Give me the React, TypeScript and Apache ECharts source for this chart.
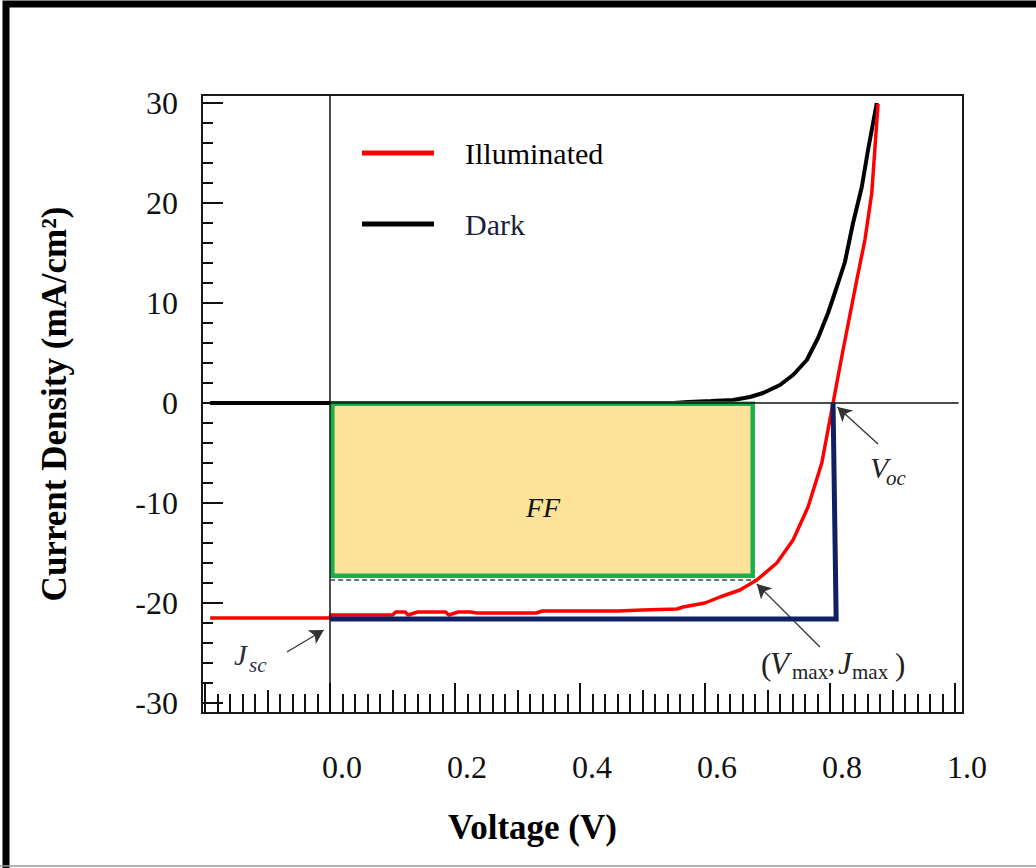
import React, { useEffect, useRef } from 'react';
import * as echarts from 'echarts';

const SERIF = "'Liberation Serif', 'Times New Roman', serif";

// Dark J-V curve (V, mA/cm2)
const darkV = [-0.192, 0, 0.3, 0.55, 0.573, 0.61, 0.645, 0.672, 0.693, 0.72, 0.741, 0.763, 0.781, 0.797, 0.811, 0.824, 0.837, 0.851, 0.861, 0.875];
const darkJ = [0, 0, 0, 0, 0.1, 0.2, 0.3, 0.6, 1.0, 1.8, 2.8, 4.3, 6.5, 9.0, 11.6, 14.1, 18.0, 21.6, 25.3, 30.0];

// Illuminated J-V curve
const illumV = [-0.192, 0, 0.001, 0.1, 0.105, 0.12, 0.125, 0.14, 0.185, 0.19, 0.205, 0.225, 0.235, 0.33, 0.34, 0.46, 0.5, 0.555, 0.565, 0.6, 0.624, 0.656, 0.683, 0.715, 0.741, 0.765, 0.787, 0.805, 0.821, 0.843, 0.856, 0.867, 0.877];
const illumJ = [-21.5, -21.5, -21.2, -21.2, -20.9, -20.9, -21.2, -20.9, -20.9, -21.2, -20.9, -20.9, -21.0, -21.0, -20.8, -20.8, -20.7, -20.6, -20.4, -20.0, -19.4, -18.7, -17.7, -16.0, -13.7, -10.4, -6.0, 0, 5.3, 12.3, 16.3, 21.0, 29.9];

// Ideal rectangle (Jsc x Voc)
const idealV = [0, 0.81, 0.805];
const idealJ = [-21.6, -21.6, 0];

// Fill-factor box: [V0, J0, V1, J1]
const ffBox = [0, 0.15, 0.68, -17.5];
const jmaxLine = -17.65;
const vmaxLine = 0.68;

// Axis ticks / labels
const xLabelValues = [0, 0.2, 0.4, 0.6, 0.8, 1.0];
const xMajorTicks = [-0.2, 0, 0.2, 0.4, 0.6, 0.8, 1.0];
const xMidTicks = [-0.1, 0.1, 0.3, 0.5, 0.7, 0.9];
const yLabelValues = [-30, -20, -10, 0, 10, 20, 30];

const xMinorTicks: number[] = [];
for (let i = 0; i <= 60; i++) xMinorTicks.push((i * 2 - 20) / 100);
const yMinorTicks: number[] = [];
for (let i = -15; i <= 15; i++) yMinorTicks.push(i * 2);

const X_MIN = -0.205, X_MAX = 1.013, Y_MIN = -31, Y_MAX = 30.8;

const pairs = (xs: number[], ys: number[]) => xs.map((x, i) => [x, ys[i]]);

const gridBox = { left: 202, top: 95, width: 761, height: 618 };

function txt(text: string, x: number, y: number, size: number, opts: any = {}) {
  return {
    type: 'text',
    x,
    y,
    z: 100,
    style: {
      text,
      fontFamily: SERIF,
      fontSize: size,
      fontStyle: opts.italic ? 'italic' : 'normal',
      fill: opts.color || '#111',
      align: opts.align || 'left',
      verticalAlign: 'middle',
    },
  };
}

export default function App() {
  const ref = useRef<HTMLDivElement>(null);
  useEffect(() => {
    if (!ref.current) return;
    const chart = echarts.init(ref.current, null, { renderer: 'svg' });
    const tickLine = { color: '#111', width: 2 };
    const noLine = { show: false, onZero: false };
    const hiddenAxisBase = {
      type: 'value',
      min: X_MIN,
      max: X_MAX,
      axisLine: noLine,
      axisLabel: { show: false },
      splitLine: { show: false },
    };
    const option: any = {
      animation: false,
      backgroundColor: '#fff',
      grid: [
        { ...gridBox, show: true, borderColor: '#1a1a1a', borderWidth: 2, backgroundColor: 'transparent', outerBoundsMode: 'none' },
        { ...gridBox, show: false, outerBoundsMode: 'none' },
        { ...gridBox, show: false, outerBoundsMode: 'none' },
      ],
      legend: {
        orient: 'vertical',
        left: 357,
        top: 133,
        itemWidth: 72,
        itemHeight: 5,
        itemGap: 41,
        icon: 'rect',
        selectedMode: false,
        textStyle: { fontFamily: SERIF, fontSize: 30, color: '#000', padding: [0, 0, 0, 26] },
        data: [
          { name: 'Illuminated', textStyle: { color: '#000' } },
          { name: 'Dark', textStyle: { color: '#1c1f3a' } },
        ],
      },
      xAxis: [
        {
          type: 'value',
          gridIndex: 0,
          min: X_MIN,
          max: X_MAX,
          name: 'Voltage (V)',
          nameLocation: 'middle',
          nameGap: 97,
          nameTextStyle: { fontFamily: SERIF, fontWeight: 'bold', fontSize: 35, color: '#000', padding: [0, 100, 0, 0] },
          axisLine: noLine,
          axisTick: { show: true, inside: true, length: 30, lineStyle: tickLine, customValues: xMajorTicks },
          axisLabel: {
            show: true,
            customValues: xLabelValues,
            formatter: (v: number) => v.toFixed(1),
            fontFamily: SERIF,
            fontSize: 32,
            color: '#111',
            margin: 38,
            padding: [0, 0, 0, 24],
          },
          splitLine: { show: false },
        },
        {
          ...hiddenAxisBase,
          gridIndex: 1,
          axisTick: { show: true, inside: true, length: 23, lineStyle: tickLine, customValues: xMidTicks },
        },
        {
          ...hiddenAxisBase,
          gridIndex: 2,
          axisTick: { show: true, inside: true, length: 19, lineStyle: tickLine, customValues: xMinorTicks },
        },
      ],
      yAxis: [
        {
          type: 'value',
          gridIndex: 0,
          min: Y_MIN,
          max: Y_MAX,
          name: 'Current Density (mA/cm²)',
          nameLocation: 'middle',
          nameGap: 130,
          nameTextStyle: { fontFamily: SERIF, fontWeight: 'bold', fontSize: 35, color: '#000' },
          axisLine: noLine,
          axisTick: { show: true, inside: true, length: 21, lineStyle: tickLine, customValues: yLabelValues },
          axisLabel: {
            show: true,
            customValues: yLabelValues,
            fontFamily: SERIF,
            fontSize: 32,
            color: '#111',
            margin: 24,
            padding: [14, 0, 0, 0],
          },
          splitLine: { show: false },
        },
        {
          type: 'value',
          gridIndex: 1,
          min: Y_MIN,
          max: Y_MAX,
          axisLine: noLine,
          axisLabel: { show: false },
          splitLine: { show: false },
          axisTick: { show: true, inside: true, length: 11, lineStyle: tickLine, customValues: yMinorTicks },
        },
        { type: 'value', gridIndex: 2, min: Y_MIN, max: Y_MAX, show: false, axisLine: noLine },
      ],
      series: [
        {
          name: 'Dark',
          type: 'line',
          xAxisIndex: 0,
          yAxisIndex: 0,
          data: pairs(darkV, darkJ),
          showSymbol: false,
          symbol: 'none',
          color: '#000',
          lineStyle: { color: '#000', width: 4 },
          z: 2,
        },
        {
          name: 'FF',
          type: 'custom',
          xAxisIndex: 0,
          yAxisIndex: 0,
          z: 3,
          encode: { x: [0, 2], y: [1, 3] },
          data: [ffBox],
          renderItem: (params: any, api: any) => {
            const p0 = api.coord([api.value(0), api.value(1)]);
            const p1 = api.coord([api.value(2), api.value(3)]);
            const w = 4.5;
            return {
              type: 'rect',
              shape: { x: p0[0] + w / 2, y: p0[1] + w / 2, width: p1[0] - p0[0] - w, height: p1[1] - p0[1] - w },
              style: { fill: '#fde39a', stroke: '#1aaf4b', lineWidth: w },
            };
          },
        },
        {
          name: 'Illuminated',
          type: 'line',
          xAxisIndex: 0,
          yAxisIndex: 0,
          data: pairs(illumV, illumJ),
          showSymbol: false,
          symbol: 'none',
          color: '#ff0000',
          lineStyle: { color: '#ff0000', width: 3.5 },
          z: 4,
        },
        {
          name: 'Ideal',
          type: 'line',
          xAxisIndex: 0,
          yAxisIndex: 0,
          data: pairs(idealV, idealJ),
          showSymbol: false,
          symbol: 'none',
          color: '#0f2163',
          lineStyle: { color: '#0f2163', width: 5, join: 'miter' },
          z: 5,
        },
        {
          name: 'Guides',
          type: 'line',
          xAxisIndex: 0,
          yAxisIndex: 0,
          data: [],
          z: 1,
          markLine: {
            silent: true,
            symbol: ['none', 'none'],
            label: { show: false },
            data: [
              { xAxis: 0, lineStyle: { color: '#111', width: 1.5, type: 'solid' } },
              [
                { coord: [0, 0], lineStyle: { color: '#111', width: 1.5, type: 'solid' } },
                { coord: [1.006, 0] },
              ],
              [
                { coord: [0, jmaxLine], lineStyle: { color: '#444', width: 1.5, type: [5, 3] } },
                { coord: [vmaxLine, jmaxLine] },
              ],
            ],
          },
        },
        {
          name: 'Arrows',
          type: 'line',
          xAxisIndex: 0,
          yAxisIndex: 0,
          data: [],
          z: 6,
          markLine: {
            silent: true,
            symbol: ['none', 'arrow'],
            symbolSize: [12, 14],
            label: { show: false },
            lineStyle: { color: '#333', width: 1.3, type: 'solid' },
            data: [
              [{ coord: [-0.069, -24.9] }, { coord: [-0.01, -22.7] }],
              [{ coord: [0.877, -4.1] }, { coord: [0.812, -0.4] }],
              [{ coord: [0.784, -24.4] }, { coord: [0.683, -18.1] }],
            ],
          },
        },
      ],
      graphic: [
        { type: 'polyline', z: 100, shape: { points: [[6, 870], [6, 4], [1040, 4]] }, style: { stroke: '#000', lineWidth: 7, fill: null } },
        { type: 'line', z: 100, shape: { x1: 0, y1: 866, x2: 1036, y2: 866 }, style: { stroke: '#9a9a9a', lineWidth: 1.5 } },
        txt('FF', 543, 507, 28, { italic: true, align: 'center' }),
        txt('J', 234, 655, 29, { italic: true, color: '#2a2d44' }),
        txt('sc', 249, 665, 21, { italic: true, color: '#2a2d44' }),
        txt('V', 870, 467, 30, { italic: true, color: '#222' }),
        txt('oc', 886, 478, 21, { italic: true, color: '#222' }),
        txt('(', 761, 664, 31, { color: '#222' }),
        txt('V', 770, 663, 31, { italic: true, color: '#222' }),
        txt('max', 792, 672, 21, { color: '#222' }),
        txt(',', 828, 662, 28, { color: '#222' }),
        txt('J', 838, 663, 31, { italic: true, color: '#222' }),
        txt('max', 852, 672, 21, { color: '#222' }),
        txt(')', 895, 664, 31, { color: '#222' }),
      ],
    };
    chart.setOption(option);
    return () => chart.dispose();
  }, []);
  return <div ref={ref} style={{ position: 'fixed', left: 0, top: 0, width: 1036, height: 868, background: '#fff' }} />;
}
